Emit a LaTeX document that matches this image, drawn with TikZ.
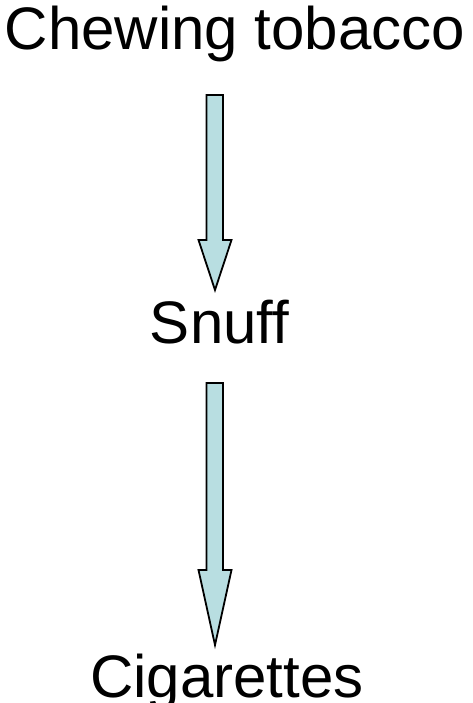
\documentclass[tikz,border=0pt]{standalone}
\usepackage{fontspec}
\setmainfont{Liberation Sans}
\definecolor{arrowfill}{RGB}{184,222,225}
\tikzset{
  label/.style={inner sep=0pt, anchor=base, font=\fontsize{60}{72}\selectfont},
  blockarrow/.style={draw=black, line width=1.8pt, fill=arrowfill, line join=miter}
}
\begin{document}
\begin{tikzpicture}[x=1pt,y=-1pt]
\useasboundingbox (0,0) rectangle (473,703);
\node[label] (chew) at (235,50) {Chewing tobacco};
\node[label] (snuff) at (219.5,343) {Snuff};
\node[label] (cig) at (227,697) {Cigarettes};
% arrow 1
\draw[blockarrow] (206.5,95) -- (223,95) -- (223,240) -- (231.5,240) -- (215,290) -- (198.5,240) -- (206.5,240) -- cycle;
% arrow 2
\draw[blockarrow] (206.5,383) -- (223,383) -- (223,570) -- (231.5,570) -- (215,645) -- (198.5,570) -- (206.5,570) -- cycle;
\end{tikzpicture}
\end{document}
